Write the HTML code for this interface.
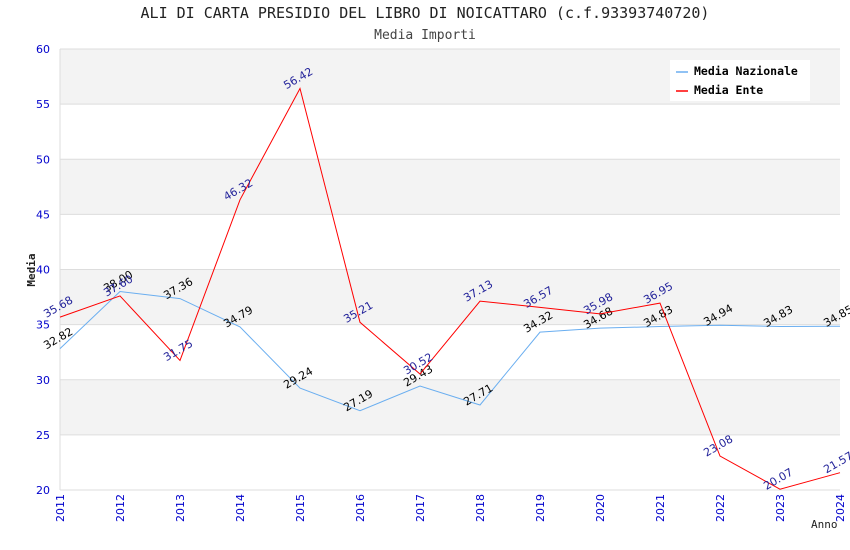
<!DOCTYPE html>
<html><head><meta charset="utf-8"><style>
body{margin:0;background:#fff}
svg{display:block;font-family:"DejaVu Sans","Liberation Sans",sans-serif}
.mono{font-family:"DejaVu Sans Mono","Liberation Mono",monospace}
</style></head><body>
<svg id="chart" width="850" height="550">
<text class="mono" x="425" y="18" text-anchor="middle" font-size="15" fill="#222">ALI DI CARTA PRESIDIO DEL LIBRO DI NOICATTARO (c.f.93393740720)</text>
<text class="mono" x="425" y="39" text-anchor="middle" font-size="13" fill="#444">Media Importi</text>
<g id="grid"></g>
<g id="axes"></g>
<g id="series"></g>
<text class="mono" x="35" y="270" text-anchor="middle" font-size="11" font-weight="bold" fill="#222" transform="rotate(-90 35 270)">Media</text>
<text class="mono" x="811" y="528" font-size="11" fill="#222">Anno</text>
<g>
<rect x="670" y="60" width="140" height="41" fill="#fff"/>
<line x1="676" y1="72" x2="688" y2="72" stroke="#6aaef0" stroke-width="1.5"/>
<text class="mono" x="694" y="75" font-size="11.5" font-weight="bold" fill="#000">Media Nazionale</text>
<line x1="676" y1="91" x2="688" y2="91" stroke="#f00" stroke-width="1.5"/>
<text class="mono" x="694" y="94" font-size="11.5" font-weight="bold" fill="#000">Media Ente</text>
</g>
</svg>
<script>
const years=[2011,2012,2013,2014,2015,2016,2017,2018,2019,2020,2021,2022,2023,2024];
const nazionale=[32.82,38.00,37.36,34.79,29.24,27.19,29.43,27.71,34.32,34.68,34.83,34.94,34.83,34.85];
const ente=[35.68,37.60,31.75,46.32,56.42,35.21,30.52,37.13,36.57,35.98,36.95,23.08,20.07,21.57];
const yTicks=[20,25,30,35,40,45,50,55,60];
const NS='http://www.w3.org/2000/svg';
const X0=60,X1=840,Y0=490,Y1=49,YMIN=20,YMAX=60;
const xs=i=>X0+(X1-X0)*i/(years.length-1);
const ys=v=>Y0-(v-YMIN)/(YMAX-YMIN)*(Y0-Y1);
function mk(t,a,p){const e=document.createElementNS(NS,t);for(const k in a)e.setAttribute(k,a[k]);p.appendChild(e);return e;}
const grid=document.getElementById('grid'),axes=document.getElementById('axes'),ser=document.getElementById('series');
for(let i=0;i<yTicks.length-1;i++){
 if(i%2===1){const r=mk('rect',{x:X0,y:ys(yTicks[i+1]),width:X1-X0,height:ys(yTicks[i])-ys(yTicks[i+1]),fill:'#f3f3f3'},grid);
 
 }
}
yTicks.forEach(v=>{
 const l=mk('line',{x1:X0,x2:X1,y1:ys(v),y2:ys(v),stroke:'#ddd'},grid);
 
 
 const t=mk('text',{x:X0-10,y:ys(v)+4,'text-anchor':'end','font-size':11,fill:'#00c'},axes);
 t.textContent=v;
 
 
});
mk('line',{x1:X0,x2:X0,y1:Y1,y2:Y0,stroke:'#ddd'},grid);
years.forEach((y,i)=>{
 const t=mk('text',{x:xs(i)+4,y:Y0+4,'text-anchor':'end','font-size':11,fill:'#00c',transform:`rotate(-90 ${xs(i)+4} ${Y0+4})`},axes);
 t.textContent=y;
 
 
});
function draw(vals,color,labColor,name){
 const p=mk('polyline',{points:vals.map((v,i)=>xs(i)+','+ys(v)).join(' '),fill:'none',stroke:color,'stroke-width':1},ser);
 
 
 vals.forEach((v,i)=>{
  const x=xs(i),y=ys(v)-7;
  const t=mk('text',{x:x,y:y,'text-anchor':'middle','font-size':11,fill:labColor,transform:`rotate(-30 ${x} ${y})`},ser);
  t.textContent=v.toFixed(2);
  
  
 });
}
draw(nazionale,'#6aaef0','#000','nazionale');
draw(ente,'#f00','#22229a','ente');
</script>
</body></html>
